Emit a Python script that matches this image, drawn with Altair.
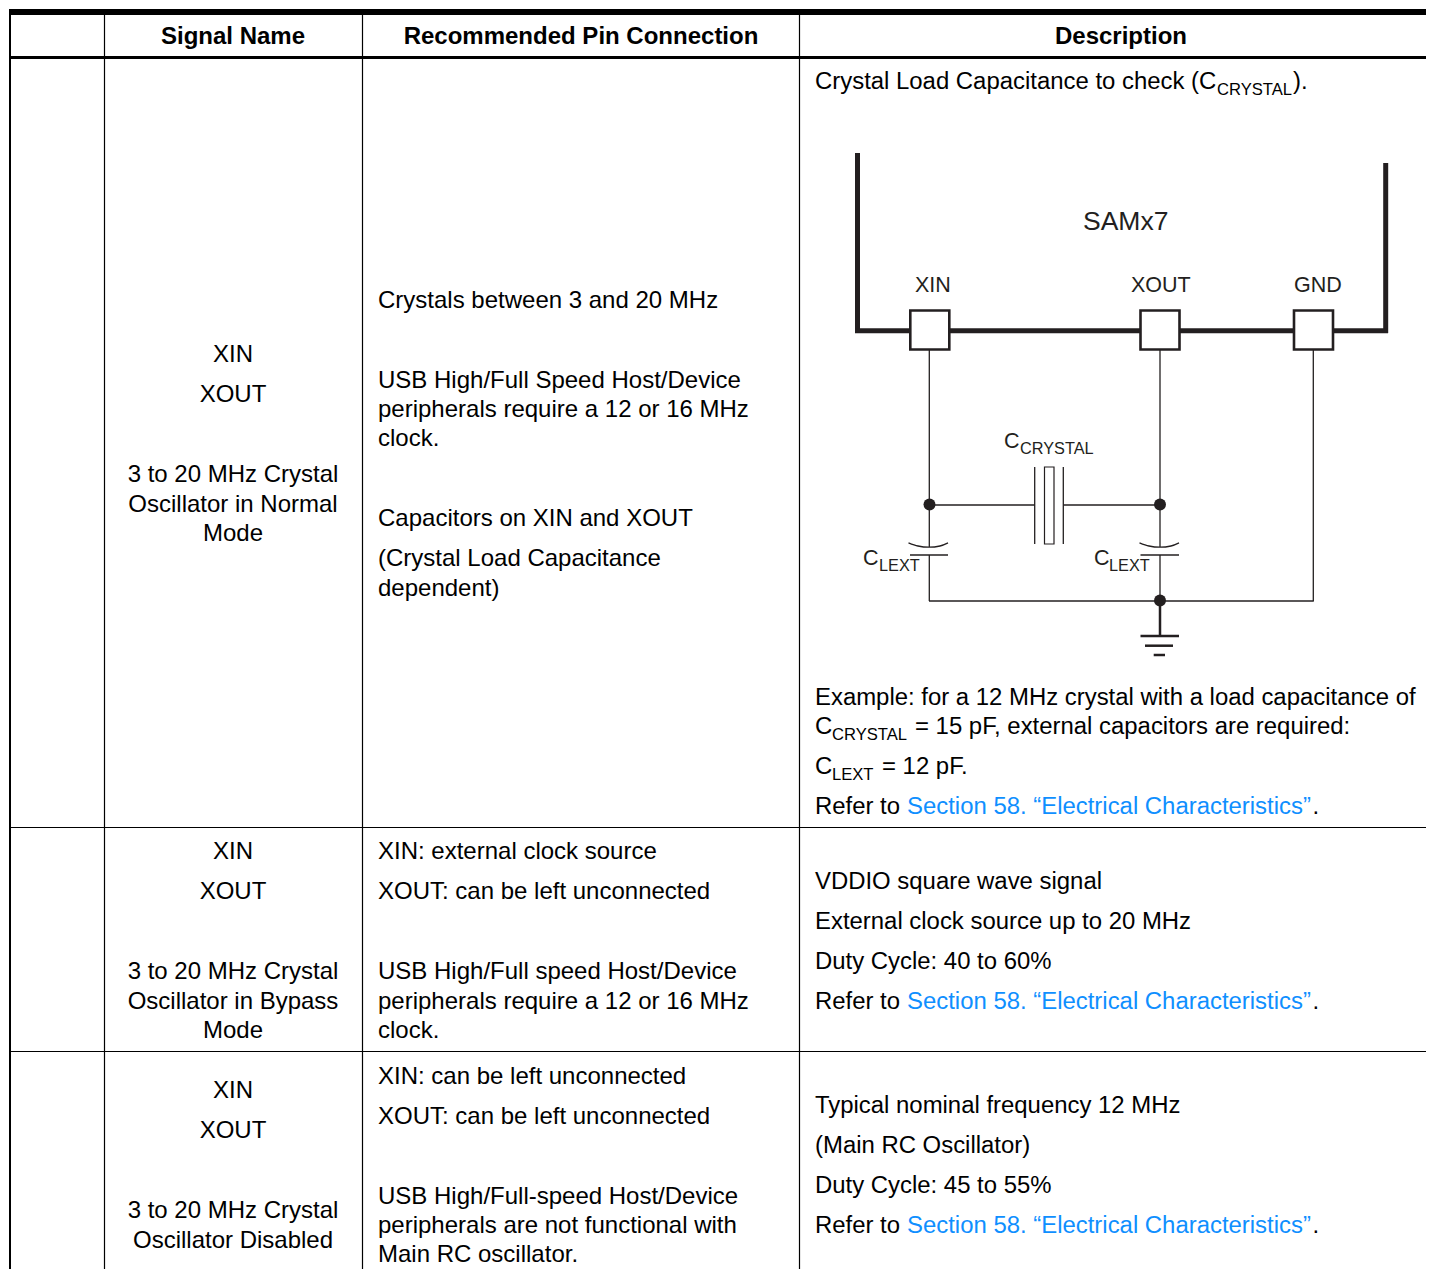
import altair as alt
import pandas as pd

BLACK = "#000000"
INK = "#231f20"
LINK = "#0f8fff"
F = "Liberation Sans"

# table rules: x1, y1, x2, y2, stroke width
table_rules = [
    (9, 12, 1434, 12, 6), (9, 57.5, 1434, 57.5, 3),
    (9, 827.5, 1434, 827.5, 1.2), (9, 1051.5, 1434, 1051.5, 1.2),
    (10, 9, 10, 1269, 2), (104.5, 15, 104.5, 1269, 1.2),
    (362.5, 15, 362.5, 1269, 1.2), (799.5, 15, 799.5, 1269, 1.2),
]
# schematic wiring
wire_rules = [
    (857.5, 153, 857.5, 333, 5), (1385.7, 163, 1385.7, 333, 5),
    (855, 330.7, 1388, 330.7, 5),
    (929.3, 350, 929.3, 547, 1.3), (929.3, 555, 929.3, 601, 1.3),
    (1160, 350, 1160, 547, 1.3), (1160, 555, 1160, 601, 1.3),
    (1313.3, 350, 1313.3, 601, 1.3), (929, 601, 1313.8, 601, 1.3),
    (929, 505, 1034.7, 505, 1.3), (1063.3, 505, 1160, 505, 1.3),
    (1034.7, 467, 1034.7, 544, 1.3), (1063.3, 467, 1063.3, 544, 1.3),
    (910, 555, 948, 555, 1.3), (1140.5, 555, 1179, 555, 1.3),
    (1160, 601, 1160, 636, 2.5),
    (1140.5, 636, 1179, 636, 2.5), (1145, 645.7, 1173, 645.7, 2.5),
    (1153.7, 655, 1165, 655, 2.5),
]
# boxes: x1, y1, x2, y2, stroke width
boxes = [
    (910.3, 310.5, 949.3, 349.5, 2.6), (1140.5, 310.5, 1179.5, 349.5, 2.6),
    (1294, 310.5, 1333, 349.5, 2.6), (1044.5, 467, 1054, 544, 1.2),
]
dots_x = [929.5, 1160, 1160]
dots_y = [504.5, 504.5, 600.5]
# curved capacitor plates
arc_id = [0, 0, 0, 0, 0, 1, 1, 1, 1, 1]
arc_x = [908.5, 918, 929, 940, 948, 1139.5, 1149, 1160, 1171, 1179]
arc_y = [542.8, 546, 547.2, 546, 542.8, 542.8, 546, 547.2, 546, 542.8]

header = [(233, 44, "Signal Name"), (581, 44, "Recommended Pin Connection"), (1121, 44, "Description")]
col1 = [
    (362, "XIN"), (402, "XOUT"), (482, "3 to 20 MHz Crystal"),
    (511.5, "Oscillator in Normal"), (541, "Mode"),
    (859, "XIN"), (899, "XOUT"), (979, "3 to 20 MHz Crystal"),
    (1009, "Oscillator in Bypass"), (1038, "Mode"),
    (1098, "XIN"), (1138, "XOUT"), (1218, "3 to 20 MHz Crystal"),
    (1248, "Oscillator Disabled"),
]
col2 = [
    (308, "Crystals between 3 and 20 MHz"),
    (388, "USB High/Full Speed Host/Device"),
    (417, "peripherals require a 12 or 16 MHz"), (446, "clock."),
    (526, "Capacitors on XIN and XOUT"),
    (566, "(Crystal Load Capacitance"), (596, "dependent)"),
    (859, "XIN: external clock source"), (899, "XOUT: can be left unconnected"),
    (979, "USB High/Full speed Host/Device"),
    (1009, "peripherals require a 12 or 16 MHz"), (1038, "clock."),
    (1084, "XIN: can be left unconnected"), (1124, "XOUT: can be left unconnected"),
    (1204, "USB High/Full-speed Host/Device"),
    (1233, "peripherals are not functional with"), (1262, "Main RC oscillator."),
]
col3 = [
    (815, 89, "Crystal Load Capacitance to check (C"), (1293, 89, ")."),
    (815, 705, "Example: for a 12 MHz crystal with a load capacitance of"),
    (815, 734, "C"), (915, 734, "= 15 pF, external capacitors are required:"),
    (815, 774, "C"), (882, 774, "= 12 pF."),
    (815, 814, "Refer to"), (1312.5, 814, "."),
    (815, 889, "VDDIO square wave signal"), (815, 929, "External clock source up to 20 MHz"),
    (815, 969, "Duty Cycle: 40 to 60%"), (815, 1009, "Refer to"), (1312.5, 1009, "."),
    (815, 1113, "Typical nominal frequency 12 MHz"), (815, 1153, "(Main RC Oscillator)"),
    (815, 1193, "Duty Cycle: 45 to 55%"), (815, 1233, "Refer to"), (1312.5, 1233, "."),
]
subs = [(1217, 95, "CRYSTAL"), (832, 740, "CRYSTAL"), (832, 780, "LEXT")]
links = [(907, 814), (907, 1009), (907, 1233)]
link_text = "Section 58. \u201cElectrical Characteristics\u201d"
# diagram labels: x, baseline, text, size
diagram = [
    (1083, 230, "SAMx7", 26.5), (915, 292, "XIN", 21.5), (1131, 292, "XOUT", 21.5),
    (1294, 292, "GND", 21.5), (1004, 447.5, "C", 21.5), (1020, 454, "CRYSTAL", 16.3),
    (863, 565, "C", 21.5), (879, 571, "LEXT", 16.3),
    (1094, 565, "C", 21.5), (1109, 571, "LEXT", 16.3),
]

X = alt.X("x:Q", axis=None, scale=alt.Scale(domain=[8, 1426], range=[0, 1418], nice=False, zero=False))
Y = alt.Y("y:Q", axis=None, scale=alt.Scale(domain=[8, 1269], range=[0, 1261], nice=False, zero=False))


def rules(rows, color):
    df = pd.DataFrame(rows, columns=["x", "y", "x2", "y2", "w"])
    return alt.Chart(df).mark_rule(color=color, strokeCap="butt").encode(
        x=X, y=Y, x2="x2:Q", y2="y2:Q",
        strokeWidth=alt.StrokeWidth("w:Q", scale=None, legend=None))


def texts(rows, color=BLACK, size=24, align="left", weight="normal"):
    df = pd.DataFrame(rows, columns=["x", "y", "t"])
    return alt.Chart(df).mark_text(
        font=F, fontSize=size, align=align, baseline="alphabetic",
        color=color, fontWeight=weight
    ).encode(x=X, y=Y, text="t:N")


box_df = pd.DataFrame(boxes, columns=["x", "y", "x2", "y2", "w"])
box_layer = alt.Chart(box_df).mark_rect(fill="white", stroke=INK).encode(
    x=X, y=Y, x2="x2:Q", y2="y2:Q",
    strokeWidth=alt.StrokeWidth("w:Q", scale=None, legend=None))

dot_layer = alt.Chart(pd.DataFrame({"x": dots_x, "y": dots_y})).mark_point(
    filled=True, color=INK, size=144, opacity=1, shape="circle").encode(x=X, y=Y)

arc_layer = alt.Chart(pd.DataFrame({"x": arc_x, "y": arc_y, "id": arc_id})).mark_line(
    color=INK, strokeWidth=1.3, interpolate="monotone").encode(
    x=X, y=Y, detail="id:N", order="x:Q")

dg = pd.DataFrame(diagram, columns=["x", "y", "t", "s"])
dg_layer = alt.Chart(dg).mark_text(
    font=F, align="left", baseline="alphabetic", color=INK).encode(
    x=X, y=Y, text="t:N", size=alt.Size("s:Q", scale=None, legend=None))

chart = alt.layer(
    rules(table_rules, BLACK),
    rules(wire_rules, INK),
    box_layer, dot_layer, arc_layer, dg_layer,
    texts(header, size=24, align="center", weight="bold"),
    texts([(233, y, t) for y, t in col1], align="center"),
    texts([(378, y, t) for y, t in col2]),
    texts(col3, size=23.92),
    texts(subs, size=16.6),
    texts([(x, y, link_text) for x, y in links], color=LINK, size=23.92),
).properties(
    width=1418, height=1261, padding=0, autosize=alt.AutoSizeParams(type="none")
).configure_view(stroke=None)

chart.save("out.html", embed_options={"renderer": "svg", "actions": False})
